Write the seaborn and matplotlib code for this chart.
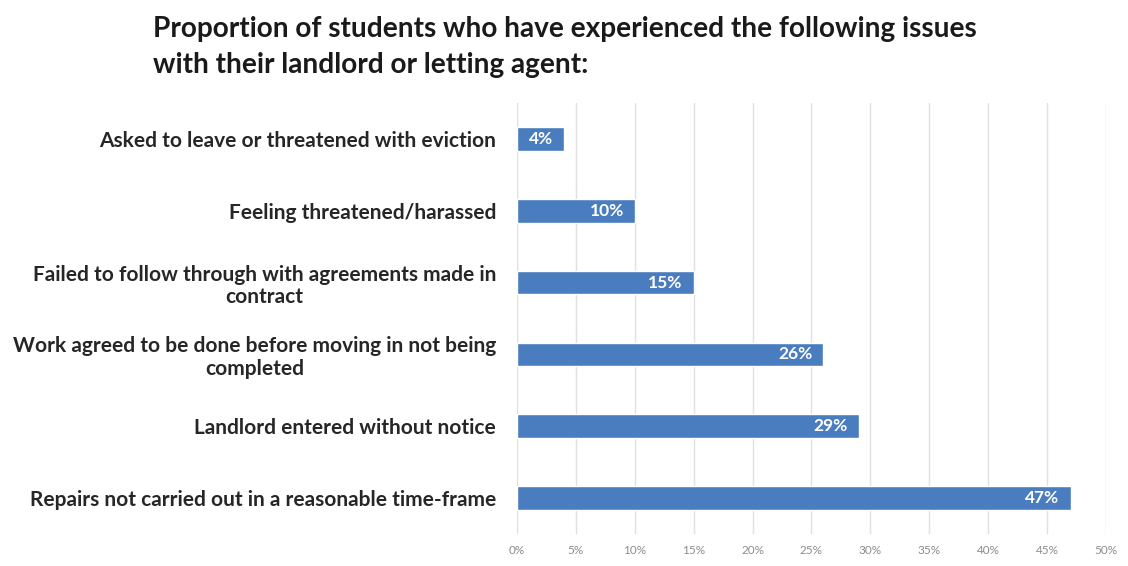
import numpy as np
import pandas as pd
import seaborn as sns
import matplotlib.pyplot as plt
from matplotlib.ticker import FuncFormatter

issues = [
    "Asked to leave or threatened with eviction",
    "Feeling threatened/harassed",
    "Failed to follow through with agreements made in\ncontract",
    "Work agreed to be done before moving in not being\ncompleted",
    "Landlord entered without notice",
    "Repairs not carried out in a reasonable time-frame",
]
percent = [4, 10, 15, 26, 29, 47]
ticks = list(range(0, 51, 5))

df = pd.DataFrame({"issue": issues, "percent": percent})

sns.set_style("white")
plt.rcParams['font.family'] = ['Lato', 'DejaVu Sans']

fig = plt.figure(figsize=(11.28, 5.66), dpi=100)
ax = fig.add_axes([0.4583, 0.0565, 0.5222, 0.7615])

sns.barplot(data=df, x="percent", y="issue", orient="h", color="#4a7dbf",
            width=0.33, saturation=1, ax=ax, zorder=3)

ax.set_xlim(0, 50)
ax.set_xticks(ticks)
ax.xaxis.set_major_formatter(FuncFormatter(lambda v, p: f"{v:.0f}%"))
ax.grid(axis="x", color="#e0e0e0", linewidth=1, zorder=0)
ax.set_axisbelow(True)
for s in ax.spines.values():
    s.set_visible(False)
ax.tick_params(axis="x", length=0, labelsize=8.5, labelcolor="#8c8c8c", pad=8)
ax.tick_params(axis="y", length=0, pad=15)
for lab in ax.get_yticklabels():
    lab.set_fontsize(15)
    lab.set_fontweight("bold")
    lab.set_color("#262626")
    lab.set_multialignment("center")
    lab.set_linespacing(1.15)
ax.set_xlabel("")
ax.set_ylabel("")

# value labels inside the bar end
for p, v in zip(ax.patches, percent):
    ax.annotate(f"{v}%", (p.get_x() + p.get_width(), p.get_y() + p.get_height() / 2),
                xytext=(-8, 0), textcoords="offset points", ha="right", va="center",
                color="white", fontsize=12.5, fontweight="bold", zorder=4)

fig.text(153 / 1128, 1 - 16 / 566,
         "Proportion of students who have experienced the following issues\nwith their landlord or letting agent:",
         ha="left", va="top", fontsize=20.2, fontweight="bold", color="#1a1a1a",
         linespacing=1.5)

fig.savefig("out.png", dpi=100)
